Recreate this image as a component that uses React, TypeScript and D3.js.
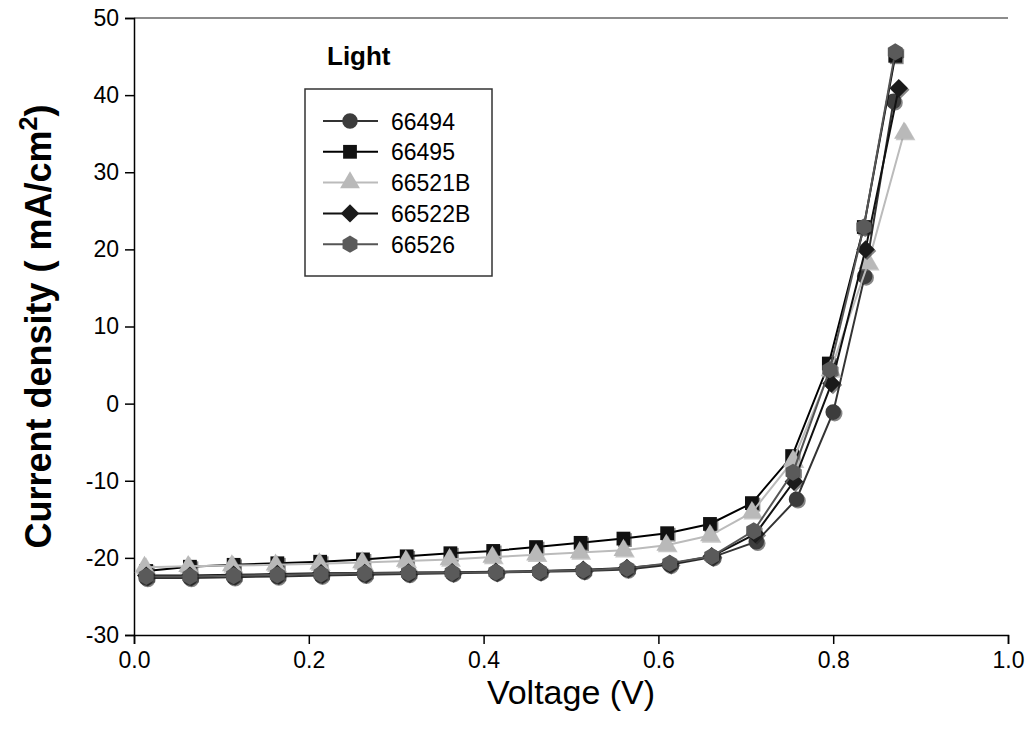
import { useRef, useEffect } from "react";
import * as d3 from "d3";

// measured J-V points under light (V, mA/cm2)
const v66494 = [0.014, 0.064, 0.114, 0.164, 0.214, 0.264, 0.314, 0.364, 0.414, 0.464, 0.514, 0.564, 0.613, 0.662, 0.712, 0.758, 0.800, 0.836, 0.869];
const j66494 = [-22.6, -22.6, -22.5, -22.4, -22.3, -22.2, -22.1, -22.0, -21.9, -21.8, -21.7, -21.5, -20.9, -19.9, -17.9, -12.4, -1.1, 16.5, 39.2];

const v66495 = [0.014, 0.064, 0.114, 0.164, 0.213, 0.262, 0.312, 0.362, 0.411, 0.460, 0.511, 0.560, 0.610, 0.659, 0.707, 0.753, 0.795, 0.835, 0.871];
const j66495 = [-21.7, -21.15, -20.9, -20.7, -20.5, -20.2, -19.8, -19.4, -19.1, -18.6, -18.05, -17.5, -16.8, -15.6, -12.9, -6.8, 5.2, 22.9, 45.1];

const v66521B = [0.012, 0.062, 0.112, 0.162, 0.212, 0.261, 0.311, 0.361, 0.410, 0.460, 0.510, 0.560, 0.609, 0.659, 0.707, 0.754, 0.797, 0.840, 0.881];
const j66521B = [-21.2, -21.1, -21.0, -20.9, -20.75, -20.6, -20.4, -20.2, -19.9, -19.6, -19.3, -19.0, -18.35, -17.1, -14.1, -7.4, 4.3, 18.2, 35.1];

const v66522B = [0.014, 0.064, 0.114, 0.164, 0.214, 0.264, 0.314, 0.364, 0.414, 0.464, 0.514, 0.564, 0.613, 0.661, 0.711, 0.755, 0.798, 0.837, 0.875];
const j66522B = [-22.3, -22.3, -22.2, -22.1, -22.0, -21.95, -21.9, -21.85, -21.8, -21.7, -21.55, -21.3, -20.8, -19.8, -16.9, -10.1, 2.6, 20.0, 40.9];

const v66526 = [0.014, 0.064, 0.114, 0.164, 0.214, 0.264, 0.314, 0.364, 0.414, 0.464, 0.514, 0.564, 0.613, 0.661, 0.709, 0.754, 0.796, 0.835, 0.871];
const j66526 = [-22.4, -22.4, -22.3, -22.2, -22.1, -22.0, -21.95, -21.9, -21.85, -21.75, -21.6, -21.35, -20.7, -19.8, -16.5, -8.9, 4.4, 22.9, 45.6];

const seriesNames = ["66494", "66495", "66521B", "66522B", "66526"];
const xTicks = [0, 0.2, 0.4, 0.6, 0.8, 1.0];
const yTicks = [-30, -20, -10, 0, 10, 20, 30, 40, 50];

const W = 1029, H = 743;
const FONT = "'Liberation Sans', Arial, sans-serif";

const hexPath = (r: number) => {
    const pts = d3.range(6).map(i => {
        const a = Math.PI / 3 * i - Math.PI / 2;
        return [r * Math.cos(a), r * Math.sin(a)];
    });
    return "M" + pts.map(p => p.join(",")).join("L") + "Z";
};

export default function App() {
    const svgRef = useRef(null);

    useEffect(() => {
        const x = d3.scaleLinear().domain([0, 1]).range([134, 1008]);
        const y = d3.scaleLinear().domain([-30, 50]).range([635, 18]);

        const series = [
            { name: seriesNames[0], v: v66494, j: j66494, line: "#333", fill: "#3c3c3c", shape: "circle" },
            { name: seriesNames[1], v: v66495, j: j66495, line: "#000", fill: "#111", shape: "square" },
            { name: seriesNames[2], v: v66521B, j: j66521B, line: "#bbb", fill: "#b9b9b9", shape: "triangle" },
            { name: seriesNames[3], v: v66522B, j: j66522B, line: "#111", fill: "#1a1a1a", shape: "diamond" },
            { name: seriesNames[4], v: v66526, j: j66526, line: "#555", fill: "#5a5a5a", shape: "hexagon" },
        ];

        const markerPath = (shape: string) => {
            if (shape === "circle") return d3.symbol(d3.symbolCircle, 190)();
            if (shape === "square") return d3.symbol(d3.symbolSquare, 190)();
            if (shape === "triangle") return d3.symbol(d3.symbolTriangle, 170)();
            if (shape === "diamond") return d3.symbol(d3.symbolSquare, 170)();
            return hexPath(8.6);
        };
        const markerRot = (shape: string) => (shape === "diamond" ? 45 : 0);

        const svg = d3.select(svgRef.current).html(null);
        svg.append("rect").attr("width", W).attr("height", H).attr("fill", "white");

        const g = svg.append("g").style("font-family", FONT);

        // top frame line
        g.append("line")
            .attr("x1", x(0)).attr("x2", x(1)).attr("y1", y(50)).attr("y2", y(50))
            .attr("stroke", "#666").attr("stroke-width", 1.5);

        const xAxis = g.append("g").attr("transform", `translate(0,${y(-30)})`)
            .call(d3.axisBottom(x).tickValues(xTicks).tickFormat(d3.format(".1f")).tickSize(9).tickPadding(8));
        const yAxis = g.append("g").attr("transform", `translate(${x(0)},0)`)
            .call(d3.axisLeft(y).tickValues(yTicks).tickFormat(d => String(d)).tickSize(9).tickPadding(6));
        [xAxis, yAxis].forEach(a => {
            a.select(".domain").attr("stroke", "#000").attr("stroke-width", 1.5);
            a.selectAll(".tick line").attr("stroke", "#000").attr("stroke-width", 1.5);
            a.selectAll(".tick text").attr("font-size", 23).attr("fill", "#000")
                .style("font-family", FONT);
        });

        // series
        const line = d3.line<[number, number]>().x(d => x(d[0])).y(d => y(d[1]));
        series.forEach(s => {
            const pts = s.v.map((v, i) => [v, s.j[i]] as [number, number]);
            g.append("path").attr("d", line(pts)).attr("fill", "none")
                .attr("stroke", s.line).attr("stroke-width", 2);
            const m = g.append("g");
            // small drop shadow like the original
            m.selectAll("path.sh").data(pts).join("path").attr("class", "sh")
                .attr("d", markerPath(s.shape))
                .attr("transform", d => `translate(${x(d[0]) + 1.5},${y(d[1]) + 1.5}) rotate(${markerRot(s.shape)})`)
                .attr("fill", s.shape === "triangle" ? "#999" : "#222").attr("opacity", 0.55);
            m.selectAll("path.mk").data(pts).join("path").attr("class", "mk")
                .attr("d", markerPath(s.shape))
                .attr("transform", d => `translate(${x(d[0])},${y(d[1])}) rotate(${markerRot(s.shape)})`)
                .attr("fill", s.fill);
        });

        // legend
        const lg = g.append("g");
        lg.append("rect").attr("x", 305).attr("y", 89).attr("width", 187).attr("height", 187)
            .attr("fill", "white").attr("stroke", "#333").attr("stroke-width", 1.5);
        series.forEach((s, i) => {
            const ly = 121 + i * 30.8;
            lg.append("line").attr("x1", 323).attr("x2", 378).attr("y1", ly).attr("y2", ly)
                .attr("stroke", s.line).attr("stroke-width", 2);
            lg.append("path").attr("d", markerPath(s.shape))
                .attr("transform", `translate(350,${ly}) rotate(${markerRot(s.shape)})`)
                .attr("fill", s.fill);
            lg.append("text").attr("x", 391).attr("y", ly + 8.5).attr("font-size", 23).text(s.name);
        });

        g.append("text").attr("x", 327).attr("y", 65).attr("font-size", 26)
            .attr("font-weight", "bold").text("Light");

        g.append("text").attr("x", (x(0) + x(1)) / 2).attr("y", 704).attr("text-anchor", "middle")
            .attr("font-size", 34).text("Voltage (V)");

        const yt = g.append("text").attr("transform", `translate(51,${(y(-30) + y(50)) / 2}) rotate(-90)`)
            .attr("text-anchor", "middle").attr("font-size", 36).attr("font-weight", "bold");
        yt.append("tspan").text("Current density ( mA/cm");
        yt.append("tspan").attr("dy", -14).attr("font-size", 25).text("2");
        yt.append("tspan").attr("dy", 14).text(")");
    }, []);

    return <svg ref={svgRef} width={W} height={H}
        style={{ position: "absolute", left: 0, top: 0 }} />;
}
